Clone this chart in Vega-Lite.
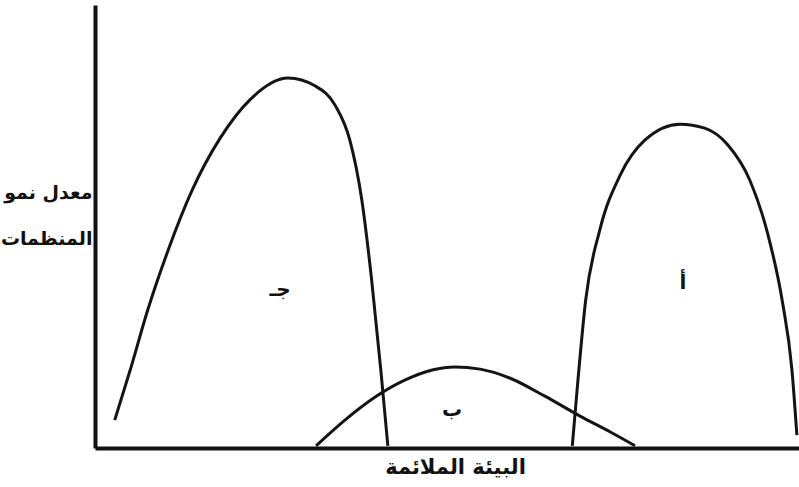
{
  "$schema": "https://vega.github.io/schema/vega-lite/v6.json",
  "autosize": {"type": "none"},
  "width": 704,
  "height": 443,
  "padding": {"left": 95, "top": 5, "right": 0, "bottom": 39},
  "background": "white",
  "config": {
    "view": {"stroke": null},
    "font": "DejaVu Sans"
  },
  "datasets": {
    "curves": [
      {"curve": "ج", "x": 2.8, "y": 6.3},
      {"curve": "ج", "x": 5.0, "y": 17.6},
      {"curve": "ج", "x": 7.5, "y": 31.2},
      {"curve": "ج", "x": 10.4, "y": 44.7},
      {"curve": "ج", "x": 13.8, "y": 58.2},
      {"curve": "ج", "x": 17.8, "y": 70.0},
      {"curve": "ج", "x": 22.0, "y": 78.6},
      {"curve": "ج", "x": 27.4, "y": 83.5},
      {"curve": "ج", "x": 31.3, "y": 81.7},
      {"curve": "ج", "x": 34.1, "y": 77.4},
      {"curve": "ج", "x": 36.2, "y": 69.5},
      {"curve": "ج", "x": 37.9, "y": 56.0},
      {"curve": "ج", "x": 39.3, "y": 37.9},
      {"curve": "ج", "x": 40.6, "y": 17.6},
      {"curve": "ج", "x": 41.6, "y": 0.5},
      {"curve": "ب", "x": 31.4, "y": 0.5},
      {"curve": "ب", "x": 35.5, "y": 6.3},
      {"curve": "ب", "x": 39.8, "y": 11.5},
      {"curve": "ب", "x": 44.0, "y": 15.3},
      {"curve": "ب", "x": 47.9, "y": 17.6},
      {"curve": "ب", "x": 51.1, "y": 18.3},
      {"curve": "ب", "x": 54.7, "y": 17.8},
      {"curve": "ب", "x": 58.9, "y": 15.8},
      {"curve": "ب", "x": 63.9, "y": 11.7},
      {"curve": "ب", "x": 68.9, "y": 7.2},
      {"curve": "ب", "x": 73.2, "y": 3.6},
      {"curve": "ب", "x": 76.7, "y": 0.5},
      {"curve": "أ", "x": 67.8, "y": 0.5},
      {"curve": "أ", "x": 68.6, "y": 15.3},
      {"curve": "أ", "x": 69.7, "y": 33.4},
      {"curve": "أ", "x": 71.7, "y": 49.2},
      {"curve": "أ", "x": 74.6, "y": 61.6},
      {"curve": "أ", "x": 78.1, "y": 69.5},
      {"curve": "أ", "x": 83.1, "y": 73.1},
      {"curve": "أ", "x": 86.6, "y": 72.2},
      {"curve": "أ", "x": 89.9, "y": 68.4},
      {"curve": "أ", "x": 93.0, "y": 60.5},
      {"curve": "أ", "x": 95.6, "y": 48.1},
      {"curve": "أ", "x": 97.6, "y": 33.4},
      {"curve": "أ", "x": 99.0, "y": 17.6},
      {"curve": "أ", "x": 99.7, "y": 2.9}
    ],
    "labels": [
      {"label": "جـ", "x": 26.3, "y": 35.7},
      {"label": "ب", "x": 50.7, "y": 8.6},
      {"label": "أ", "x": 83.5, "y": 37.2}
    ]
  },
  "layer": [
    {
      "data": {"name": "curves"},
      "mark": {"type": "line", "interpolate": "monotone", "color": "#141414", "strokeWidth": 3, "clip": false},
      "encoding": {
        "x": {
          "field": "x", "type": "quantitative",
          "scale": {"domain": [0, 100], "nice": false},
          "axis": {
            "domain": true, "domainColor": "#111", "domainWidth": 4,
            "ticks": false, "labels": false, "grid": false,
            "title": "البيئة الملائمة",
            "titleFont": "DejaVu Sans", "titleFontSize": 21, "titleFontWeight": "bold",
            "titleColor": "#111", "titleX": 360, "titleY": 19,
            "titleAlign": "center", "titleBaseline": "middle", "titleAnchor": null
          }
        },
        "y": {
          "field": "y", "type": "quantitative",
          "scale": {"domain": [0, 100], "nice": false},
          "axis": {
            "domain": true, "domainColor": "#111", "domainWidth": 4,
            "ticks": false, "labels": false, "grid": false,
            "title": ["معدل نمو", "المنظمات"],
            "titleFont": "DejaVu Sans", "titleFontSize": 19, "titleFontWeight": "bold",
            "titleColor": "#111", "titleAngle": 0, "titleX": -3, "titleY": 178,
            "titleAlign": "right", "titleBaseline": "top", "titleLineHeight": 46
          }
        },
        "detail": {"field": "curve", "type": "nominal"}
      }
    },
    {
      "data": {"name": "labels"},
      "mark": {"type": "text", "font": "DejaVu Sans", "fontSize": 20, "fontWeight": "bold", "color": "#111", "align": "center", "baseline": "middle"},
      "encoding": {
        "x": {"field": "x", "type": "quantitative"},
        "y": {"field": "y", "type": "quantitative"},
        "text": {"field": "label", "type": "nominal"}
      }
    }
  ]
}
